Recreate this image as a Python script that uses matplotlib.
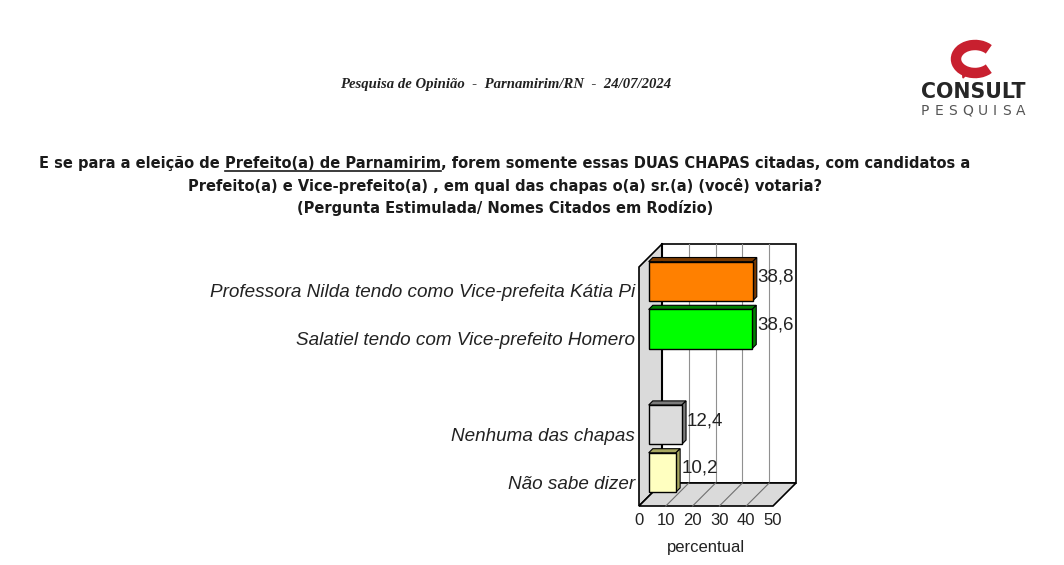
import matplotlib.pyplot as plt
import numpy as np
from matplotlib.patches import Polygon, Arc
from matplotlib import font_manager
from matplotlib.font_manager import FontProperties

# data
categorias = ["Professora Nilda tendo como Vice-prefeita Kátia Pi",
              "Salatiel tendo com Vice-prefeito Homero",
              "",
              "Nenhuma das chapas",
              "Não sabe dizer"]
valores = [38.8, 38.6, np.nan, 12.4, 10.2]
cores = ["#FF8000", "#00FF00", "#FFFFFF", "#DCDCDC", "#FFFFC0"]
cores_lado = ["#7A3A00", "#008000", "#FFFFFF", "#7C7C7C", "#A8A860"]
ticks_x = [0, 10, 20, 30, 40, 50]

cabecalho = "Pesquisa de Opinião  -  Parnamirim/RN  -  24/07/2024"
pergunta_1 = ["E se para a eleição de ", "Prefeito(a) de Parnamirim",
              ", forem somente essas DUAS CHAPAS citadas, com candidatos a"]
pergunta_2 = "Prefeito(a) e Vice-prefeito(a) , em qual das chapas o(a) sr.(a) (você) votaria?"
pergunta_3 = "(Pergunta Estimulada/ Nomes Citados em Rodízio)"

W, H = 1064, 565
fig = plt.figure(figsize=(W / 100, H / 100), dpi=100)


# fonte condensada para a pergunta (se houver)
def negrito(f):
    w = f.weight
    return (w >= 600) if isinstance(w, int) else ("bold" in str(w) or "black" in str(w))


cond = [f for f in font_manager.fontManager.ttflist
        if f.stretch not in ("normal", "expanded") and negrito(f) and f.style == "normal"]
cond.sort(key=lambda f: (0 if "Liberation" in f.name else 1 if "DejaVu" in f.name else 2))
if cond:
    fp_q = FontProperties(fname=cond[0].fname)
else:
    fp_q = FontProperties(family="Liberation Sans", weight="bold")

# ---------- grafico 3D falso ----------
ax = fig.add_axes([639 / W, (H - 506) / H, 134 / W, 239 / H])
ax.set_xlim(0, 50)
ax.set_ylim(4.5, -0.5)
DX = 23 / 134 * 50
DY = -23 / 239 * 5


def proj(x, y, d):
    return (x + DX * d, y + DY * d)


def poly(pts, **kw):
    p = Polygon(pts, closed=True, clip_on=False, **kw)
    ax.add_patch(p)


# parede do fundo
poly([proj(0, -0.5, 1), proj(50, -0.5, 1), proj(50, 4.5, 1), proj(0, 4.5, 1)],
     facecolor="white", edgecolor="black", lw=1.2, zorder=1)
# parede lateral
poly([proj(0, -0.5, 0), proj(0, -0.5, 1), proj(0, 4.5, 1), proj(0, 4.5, 0)],
     facecolor="#DADADA", edgecolor="black", lw=1.2, zorder=1.2)
# piso
poly([proj(0, 4.5, 0), proj(50, 4.5, 0), proj(50, 4.5, 1), proj(0, 4.5, 1)],
     facecolor="#DADADA", edgecolor="black", lw=1.2, zorder=1.2)

for v in ticks_x[1:-1]:
    a, b = proj(v, -0.5, 1), proj(v, 4.5, 1)
    ax.plot([a[0], b[0]], [a[1], b[1]], color="#909090", lw=0.8, zorder=1.1, clip_on=False)
    a, b = proj(v, 4.5, 0), proj(v, 4.5, 1)
    ax.plot([a[0], b[0]], [a[1], b[1]], color="#707070", lw=0.8, zorder=1.3, clip_on=False)

a, b = proj(0, -0.5, 1), proj(0, 4.5, 1)
ax.plot([a[0], b[0]], [a[1], b[1]], color="black", lw=1.5, zorder=1.4, clip_on=False)

# barras
d0, d1 = 0.42, 0.6
h = 0.82
pos = np.arange(len(categorias))
for i, (v, c, cl) in enumerate(zip(valores, cores, cores_lado)):
    if np.isnan(v):
        continue
    x0, yc = proj(0, i, d0)
    ax.barh(yc, v, left=x0, height=h, color=c, edgecolor="black", lw=1, zorder=3, clip_on=False)
    top = i - h / 2
    bot = i + h / 2
    poly([proj(0, top, d0), proj(v, top, d0), proj(v, top, d1), proj(0, top, d1)],
         facecolor=cl, edgecolor="black", lw=0.8, zorder=2.9)
    poly([proj(v, top, d0), proj(v, bot, d0), proj(v, bot, d1), proj(v, top, d1)],
         facecolor=cl, edgecolor="black", lw=0.8, zorder=2.9)
    ax.annotate(f"{v:.1f}".replace(".", ","), xy=proj(v, i, d1), xytext=(1, 0),
                textcoords="offset pixels", ha="left", va="center",
                fontsize=13.5, family="Liberation Sans", color="#222222",
                annotation_clip=False, zorder=4)

for s in ax.spines.values():
    s.set_visible(False)
ax.set_xticks(ticks_x)
ax.set_xticklabels([str(t) for t in ticks_x], fontsize=12, family="Liberation Sans", color="#222222")
ax.set_yticks(pos)
ax.set_yticklabels(categorias, fontsize=13.6, family="Liberation Sans", style="italic", color="#222222")
ax.tick_params(length=0)
ax.tick_params(axis="x", pad=5)
ax.tick_params(axis="y", pad=3)
ax.set_xlabel("percentual", fontsize=12, family="Liberation Sans", color="#222222", labelpad=8.5)
ax.set_facecolor("none")

# ---------- textos ----------
fig.text(506 / W, 1 - 84 / H, cabecalho, ha="center", va="center", fontsize=10.6,
         family="Liberation Serif", weight="bold", style="italic", color="#222222")

renderer = fig.canvas.get_renderer()
partes = []
for s in pergunta_1:
    t = fig.text(0, 1 - 168 / H, s, ha="left", va="baseline", fontproperties=fp_q,
                 fontsize=13, color="#1a1a1a")
    partes.append(t)
total = sum(t.get_window_extent(renderer).width for t in partes)
tam = min(15.0, 13 * 926 / total)
for t in partes:
    t.set_fontsize(tam)
larg = [t.get_window_extent(renderer).width for t in partes]
x = 505 - sum(larg) / 2
for t, w in zip(partes, larg):
    t.set_x(x / W)
    if t.get_text() == pergunta_1[1]:
        fig.add_artist(plt.Line2D([x / W, (x + w) / W], [1 - 171 / H, 1 - 171 / H],
                                  color="#1a1a1a", lw=1.2))
    x += w

fig.text(505 / W, 1 - 186 / H, pergunta_2, ha="center", va="center", fontproperties=fp_q,
         fontsize=tam, color="#1a1a1a")
fig.text(505 / W, 1 - 208 / H, pergunta_3, ha="center", va="center", fontproperties=fp_q,
         fontsize=tam, color="#1a1a1a")

# ---------- logo ----------
lg = fig.add_axes([0, 0, 1, 1], zorder=-1)
lg.set_xlim(0, W)
lg.set_ylim(H, 0)
lg.axis("off")
lg.add_patch(Arc((975, 59), 38, 28, theta1=35, theta2=325, lw=7.5, color="#C8202F"))
lg.add_patch(Polygon([(962, 66), (971, 70), (963, 78)], closed=True, color="#C8202F"))
lg.text(973, 92, "CONSULT", ha="center", va="center", fontsize=14.8, weight="bold",
        family="DejaVu Sans", color="#262626")

# letras espaçadas com folgas iguais
letras = [lg.text(0, 111, ch, ha="left", va="center", fontsize=10,
                  family="DejaVu Sans", color="#555555") for ch in "PESQUISA"]
lw_ = [t.get_window_extent(renderer).width for t in letras]
gap = (1025 - 921 - sum(lw_)) / (len(letras) - 1)
x = 921
for t, w in zip(letras, lw_):
    t.set_x(x)
    x += w + gap

fig.savefig("out.png", dpi=100)
